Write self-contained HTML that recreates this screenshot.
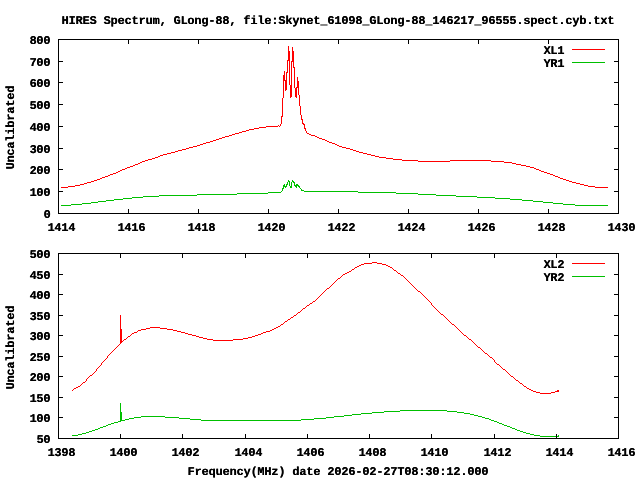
<!DOCTYPE html>
<html><head><meta charset="utf-8"><title>HIRES Spectrum</title>
<style>html,body{margin:0;padding:0;background:#fff;width:640px;height:480px;overflow:hidden}svg{display:block;will-change:transform}</style>
</head><body>
<svg width="640" height="480" viewBox="0 0 640 480" shape-rendering="crispEdges" font-family="'Liberation Mono', monospace" font-weight="bold" font-size="11.85px" fill="#000">
<rect width="640" height="480" fill="#fff"/>
<path fill="#00c000" d="M61 205h10v1h-10zM71 204h11v1h-11zM82 203h9v1h-9zM91 202h7v1h-7zM98 201h8v1h-8zM106 200h8v1h-8zM114 199h9v1h-9zM123 198h9v1h-9zM132 197h11v1h-11zM143 196h16v1h-16zM159 195h38v1h-38zM197 194h40v1h-40zM237 193h31v1h-31zM268 192h13v1h-13zM281 191h1v1h-1zM282 188h1v3h-1zM283 185h1v4h-1zM284 184h1v3h-1zM285 186h1v2h-1zM286 184h1v3h-1zM287 182h1v3h-1zM288 180h1v2h-1zM289 181h1v5h-1zM290 186h1v2h-1zM291 182h1v6h-1zM292 180h1v2h-1zM293 181h1v2h-1zM294 182h1v4h-1zM295 185h1v2h-1zM296 184h1v4h-1zM297 184h1v2h-1zM298 185h1v2h-1zM299 186h1v2h-1zM300 188h1v1h-1zM301 189h1v2h-1zM302 190h2v1h-2zM304 191h54v1h-54zM358 192h38v1h-38zM396 193h22v1h-22zM418 194h18v1h-18zM436 195h20v1h-20zM456 196h21v1h-21zM477 197h18v1h-18zM495 198h15v1h-15zM510 199h12v1h-12zM522 200h11v1h-11zM533 201h10v1h-10zM543 202h10v1h-10zM553 203h10v1h-10zM563 204h12v1h-12zM575 205h33v1h-33z"/>
<path fill="#ff0000" d="M61 187h7v1h-7zM68 186h7v1h-7zM75 185h5v1h-5zM80 184h4v1h-4zM84 183h3v1h-3zM87 182h4v1h-4zM91 181h3v1h-3zM94 180h3v1h-3zM97 179h3v1h-3zM100 178h2v1h-2zM102 177h3v1h-3zM105 176h3v1h-3zM108 175h2v1h-2zM110 174h3v1h-3zM113 173h3v1h-3zM116 172h2v1h-2zM118 171h2v1h-2zM120 170h2v1h-2zM122 169h3v1h-3zM125 168h2v1h-2zM127 167h3v1h-3zM130 166h3v1h-3zM133 165h2v1h-2zM135 164h3v1h-3zM138 163h2v1h-2zM140 162h2v1h-2zM142 161h3v1h-3zM145 160h3v1h-3zM148 159h4v1h-4zM152 158h3v1h-3zM155 157h3v1h-3zM158 156h2v1h-2zM160 155h3v1h-3zM163 154h4v1h-4zM167 153h4v1h-4zM171 152h4v1h-4zM175 151h3v1h-3zM178 150h4v1h-4zM182 149h4v1h-4zM186 148h3v1h-3zM189 147h4v1h-4zM193 146h4v1h-4zM197 145h3v1h-3zM200 144h3v1h-3zM203 143h3v1h-3zM206 142h4v1h-4zM210 141h3v1h-3zM213 140h3v1h-3zM216 139h3v1h-3zM219 138h3v1h-3zM222 137h3v1h-3zM225 136h4v1h-4zM229 135h3v1h-3zM232 134h3v1h-3zM235 133h4v1h-4zM239 132h3v1h-3zM242 131h4v1h-4zM246 130h3v1h-3zM249 129h5v1h-5zM254 128h5v1h-5zM259 127h7v1h-7zM266 126h12v1h-12zM278 125h1v1h-1zM279 126h1v1h-1zM280 124h1v2h-1zM281 116h1v8h-1zM282 98h1v19h-1zM283 75h1v23h-1zM284 71h1v10h-1zM285 80h1v11h-1zM286 72h1v18h-1zM287 60h1v13h-1zM288 46h1v15h-1zM289 51h1v34h-1zM290 85h1v13h-1zM291 61h1v36h-1zM292 47h1v15h-1zM293 51h1v17h-1zM294 67h1v21h-1zM295 88h1v9h-1zM296 87h1v11h-1zM297 77h1v11h-1zM298 81h1v14h-1zM299 95h1v11h-1zM300 106h1v9h-1zM301 115h1v5h-1zM302 119h1v5h-1zM303 123h1v2h-1zM304 124h1v5h-1zM305 128h1v3h-1zM306 131h1v2h-1zM307 133h2v1h-2zM309 134h2v1h-2zM311 135h4v1h-4zM315 136h2v1h-2zM317 137h2v1h-2zM319 138h3v1h-3zM322 139h3v1h-3zM325 140h2v1h-2zM327 141h2v1h-2zM329 142h3v1h-3zM332 143h3v1h-3zM335 144h2v1h-2zM337 145h2v1h-2zM339 146h3v1h-3zM342 147h4v1h-4zM346 148h4v1h-4zM350 149h3v1h-3zM353 150h3v1h-3zM356 151h3v1h-3zM359 152h4v1h-4zM363 153h4v1h-4zM367 154h4v1h-4zM371 155h4v1h-4zM375 156h4v1h-4zM379 157h7v1h-7zM386 158h7v1h-7zM393 159h9v1h-9zM402 160h16v1h-16zM418 161h32v1h-32zM450 160h41v1h-41zM491 161h13v1h-13zM504 162h8v1h-8zM512 163h4v1h-4zM516 164h5v1h-5zM521 165h5v1h-5zM526 166h4v1h-4zM530 167h4v1h-4zM534 168h2v1h-2zM536 169h3v1h-3zM539 170h2v1h-2zM541 171h3v1h-3zM544 172h3v1h-3zM547 173h3v1h-3zM550 174h3v1h-3zM553 175h2v1h-2zM555 176h3v1h-3zM558 177h2v1h-2zM560 178h3v1h-3zM563 179h3v1h-3zM566 180h3v1h-3zM569 181h3v1h-3zM572 182h4v1h-4zM576 183h4v1h-4zM580 184h4v1h-4zM584 185h4v1h-4zM588 186h7v1h-7zM595 187h13v1h-13z"/>
<path fill="#00c000" d="M72 435h6v1h-6zM78 434h4v1h-4zM82 433h4v1h-4zM86 432h3v1h-3zM89 431h3v1h-3zM92 430h3v1h-3zM95 429h3v1h-3zM98 428h2v1h-2zM100 427h3v1h-3zM103 426h3v1h-3zM106 425h2v1h-2zM108 424h3v1h-3zM111 423h3v1h-3zM114 422h4v1h-4zM118 421h2v1h-2zM120 403h1v19h-1zM121 412h1v9h-1zM122 420h3v1h-3zM125 419h4v1h-4zM129 418h5v1h-5zM134 417h7v1h-7zM141 416h24v1h-24zM165 417h14v1h-14zM179 418h11v1h-11zM190 419h11v1h-11zM201 420h100v1h-100zM301 419h13v1h-13zM314 418h12v1h-12zM326 417h8v1h-8zM334 416h10v1h-10zM344 415h8v1h-8zM352 414h9v1h-9zM361 413h11v1h-11zM372 412h12v1h-12zM384 411h16v1h-16zM400 410h47v1h-47zM447 411h10v1h-10zM457 412h7v1h-7zM464 413h6v1h-6zM470 414h4v1h-4zM474 415h4v1h-4zM478 416h4v1h-4zM482 417h3v1h-3zM485 418h4v1h-4zM489 419h2v1h-2zM491 420h3v1h-3zM494 421h3v1h-3zM497 422h2v1h-2zM499 423h3v1h-3zM502 424h2v1h-2zM504 425h3v1h-3zM507 426h3v1h-3zM510 427h2v1h-2zM512 428h3v1h-3zM515 429h2v1h-2zM517 430h3v1h-3zM520 431h3v1h-3zM523 432h3v1h-3zM526 433h4v1h-4zM530 434h4v1h-4zM534 435h6v1h-6zM540 436h18v1h-18zM558 435h1v2h-1z"/>
<path fill="#ff0000" d="M72 390h1v1h-1zM73 389h1v1h-1zM74 388h2v1h-2zM76 387h2v1h-2zM78 386h2v1h-2zM80 385h1v1h-1zM81 384h1v1h-1zM82 383h1v1h-1zM83 382h2v1h-2zM85 381h1v1h-1zM86 379h1v2h-1zM87 378h1v1h-1zM88 377h1v1h-1zM89 376h1v1h-1zM90 375h2v1h-2zM92 374h1v1h-1zM93 373h1v1h-1zM94 372h1v1h-1zM95 371h1v1h-1zM96 369h1v2h-1zM97 368h1v1h-1zM98 367h1v1h-1zM99 366h1v1h-1zM100 365h1v1h-1zM101 363h1v2h-1zM102 362h1v1h-1zM103 361h1v1h-1zM104 360h1v1h-1zM105 359h1v1h-1zM106 358h1v1h-1zM107 356h1v2h-1zM108 355h1v1h-1zM109 354h1v1h-1zM110 353h1v1h-1zM111 352h1v1h-1zM112 351h1v1h-1zM113 350h1v1h-1zM114 349h1v1h-1zM115 348h1v1h-1zM116 347h1v1h-1zM117 346h1v1h-1zM118 345h1v1h-1zM119 344h1v1h-1zM120 315h1v29h-1zM121 329h1v14h-1zM122 341h1v1h-1zM123 340h1v1h-1zM124 339h2v1h-2zM126 338h1v1h-1zM127 337h1v1h-1zM128 336h2v1h-2zM130 335h1v1h-1zM131 334h1v1h-1zM132 333h2v1h-2zM134 332h3v1h-3zM137 331h1v1h-1zM138 330h3v1h-3zM141 329h5v1h-5zM146 328h4v1h-4zM150 327h10v1h-10zM160 328h7v1h-7zM167 329h6v1h-6zM173 330h4v1h-4zM177 331h4v1h-4zM181 332h4v1h-4zM185 333h3v1h-3zM188 334h4v1h-4zM192 335h4v1h-4zM196 336h3v1h-3zM199 337h4v1h-4zM203 338h4v1h-4zM207 339h6v1h-6zM213 340h20v1h-20zM233 339h10v1h-10zM243 338h5v1h-5zM248 337h4v1h-4zM252 336h3v1h-3zM255 335h3v1h-3zM258 334h3v1h-3zM261 333h2v1h-2zM263 332h3v1h-3zM266 331h4v1h-4zM270 330h2v1h-2zM272 329h2v1h-2zM274 328h2v1h-2zM276 327h2v1h-2zM278 326h2v1h-2zM280 325h1v1h-1zM281 324h2v1h-2zM283 323h1v1h-1zM284 322h1v1h-1zM285 321h2v1h-2zM287 320h1v1h-1zM288 319h2v1h-2zM290 318h1v1h-1zM291 317h2v1h-2zM293 316h1v1h-1zM294 315h2v1h-2zM296 314h1v1h-1zM297 313h1v1h-1zM298 312h2v1h-2zM300 311h1v1h-1zM301 310h1v1h-1zM302 309h1v1h-1zM303 308h2v1h-2zM305 307h1v1h-1zM306 306h1v1h-1zM307 305h2v1h-2zM309 304h1v1h-1zM310 303h2v1h-2zM312 302h1v1h-1zM313 301h2v1h-2zM315 300h1v1h-1zM316 299h1v1h-1zM317 298h1v1h-1zM318 297h1v1h-1zM319 296h1v1h-1zM320 295h1v1h-1zM321 294h1v1h-1zM322 293h1v1h-1zM323 292h1v1h-1zM324 291h1v1h-1zM325 290h1v1h-1zM326 289h1v1h-1zM327 288h2v1h-2zM329 287h1v1h-1zM330 286h1v1h-1zM331 285h1v1h-1zM332 284h1v1h-1zM333 283h1v1h-1zM334 282h1v1h-1zM335 281h1v1h-1zM336 280h1v1h-1zM337 279h1v1h-1zM338 278h2v1h-2zM340 277h1v1h-1zM341 276h1v1h-1zM342 275h1v1h-1zM343 274h2v1h-2zM345 273h2v1h-2zM347 272h2v1h-2zM349 271h2v1h-2zM351 270h1v1h-1zM352 269h2v1h-2zM354 268h1v1h-1zM355 267h2v1h-2zM357 266h2v1h-2zM359 265h2v1h-2zM361 264h3v1h-3zM364 263h8v1h-8zM372 262h5v1h-5zM377 263h5v1h-5zM382 264h4v1h-4zM386 265h2v1h-2zM388 266h2v1h-2zM390 267h2v1h-2zM392 268h1v1h-1zM393 269h1v1h-1zM394 270h2v1h-2zM396 271h1v1h-1zM397 272h1v1h-1zM398 273h2v1h-2zM400 274h1v1h-1zM401 275h2v1h-2zM403 276h1v1h-1zM404 277h1v1h-1zM405 278h1v1h-1zM406 279h1v1h-1zM407 280h1v1h-1zM408 281h1v1h-1zM409 282h1v1h-1zM410 283h1v1h-1zM411 284h1v1h-1zM412 285h1v1h-1zM413 286h1v1h-1zM414 287h1v1h-1zM415 288h1v1h-1zM416 289h1v1h-1zM417 290h1v1h-1zM418 291h2v1h-2zM420 292h1v1h-1zM421 293h1v1h-1zM422 294h1v1h-1zM423 295h1v1h-1zM424 296h1v1h-1zM425 297h1v1h-1zM426 298h1v1h-1zM427 299h1v1h-1zM428 300h1v1h-1zM429 301h1v1h-1zM430 302h1v1h-1zM431 303h1v2h-1zM432 305h1v1h-1zM433 306h1v1h-1zM434 307h1v1h-1zM435 308h1v1h-1zM436 309h1v1h-1zM437 310h1v1h-1zM438 311h1v1h-1zM439 312h1v1h-1zM440 313h1v1h-1zM441 314h2v1h-2zM443 315h1v1h-1zM444 316h1v1h-1zM445 317h1v1h-1zM446 318h1v1h-1zM447 319h1v1h-1zM448 320h1v1h-1zM449 321h1v1h-1zM450 322h1v1h-1zM451 323h1v1h-1zM452 324h2v1h-2zM454 325h1v1h-1zM455 326h1v1h-1zM456 327h1v1h-1zM457 328h1v1h-1zM458 329h1v1h-1zM459 330h1v1h-1zM460 331h1v1h-1zM461 332h1v1h-1zM462 333h1v1h-1zM463 334h1v1h-1zM464 335h2v1h-2zM466 336h1v1h-1zM467 337h1v1h-1zM468 338h1v1h-1zM469 339h2v1h-2zM471 340h1v1h-1zM472 341h1v1h-1zM473 342h1v1h-1zM474 343h1v1h-1zM475 344h1v1h-1zM476 345h1v1h-1zM477 346h1v1h-1zM478 347h2v1h-2zM480 348h1v1h-1zM481 349h1v1h-1zM482 350h1v1h-1zM483 351h1v1h-1zM484 352h1v1h-1zM485 353h2v1h-2zM487 354h1v1h-1zM488 355h1v1h-1zM489 356h1v1h-1zM490 357h2v1h-2zM492 358h1v1h-1zM493 359h1v1h-1zM494 360h1v2h-1zM495 362h1v1h-1zM496 363h1v1h-1zM497 364h2v1h-2zM499 365h1v1h-1zM500 366h1v1h-1zM501 367h1v1h-1zM502 368h1v1h-1zM503 369h2v1h-2zM505 370h1v1h-1zM506 371h1v1h-1zM507 372h1v1h-1zM508 373h1v1h-1zM509 374h1v1h-1zM510 375h1v1h-1zM511 376h2v1h-2zM513 377h1v1h-1zM514 378h1v1h-1zM515 379h1v1h-1zM516 380h2v1h-2zM518 381h1v1h-1zM519 382h1v1h-1zM520 383h2v1h-2zM522 384h1v1h-1zM523 385h1v1h-1zM524 386h2v1h-2zM526 387h1v1h-1zM527 388h2v1h-2zM529 389h2v1h-2zM531 390h2v1h-2zM533 391h3v1h-3zM536 392h4v1h-4zM540 393h11v1h-11zM551 392h4v1h-4zM555 391h2v1h-2zM557 390h2v2h-2z"/>

<rect x="58" y="39" width="561" height="1" fill="#000"/>
<rect x="58" y="213" width="561" height="1" fill="#000"/>
<rect x="58" y="39" width="1" height="175" fill="#000"/>
<rect x="618" y="39" width="1" height="175" fill="#000"/>
<rect x="58" y="209" width="1" height="4" fill="#000"/>
<rect x="58" y="40" width="1" height="4" fill="#000"/>
<rect x="128" y="209" width="1" height="4" fill="#000"/>
<rect x="128" y="40" width="1" height="4" fill="#000"/>
<rect x="198" y="209" width="1" height="4" fill="#000"/>
<rect x="198" y="40" width="1" height="4" fill="#000"/>
<rect x="268" y="209" width="1" height="4" fill="#000"/>
<rect x="268" y="40" width="1" height="4" fill="#000"/>
<rect x="338" y="209" width="1" height="4" fill="#000"/>
<rect x="338" y="40" width="1" height="4" fill="#000"/>
<rect x="408" y="209" width="1" height="4" fill="#000"/>
<rect x="408" y="40" width="1" height="4" fill="#000"/>
<rect x="478" y="209" width="1" height="4" fill="#000"/>
<rect x="478" y="40" width="1" height="4" fill="#000"/>
<rect x="548" y="209" width="1" height="4" fill="#000"/>
<rect x="548" y="40" width="1" height="4" fill="#000"/>
<rect x="618" y="209" width="1" height="4" fill="#000"/>
<rect x="618" y="40" width="1" height="4" fill="#000"/>
<rect x="59" y="213" width="4" height="1" fill="#000"/>
<rect x="614" y="213" width="4" height="1" fill="#000"/>
<rect x="59" y="191" width="4" height="1" fill="#000"/>
<rect x="614" y="191" width="4" height="1" fill="#000"/>
<rect x="59" y="169" width="4" height="1" fill="#000"/>
<rect x="614" y="169" width="4" height="1" fill="#000"/>
<rect x="59" y="148" width="4" height="1" fill="#000"/>
<rect x="614" y="148" width="4" height="1" fill="#000"/>
<rect x="59" y="126" width="4" height="1" fill="#000"/>
<rect x="614" y="126" width="4" height="1" fill="#000"/>
<rect x="59" y="104" width="4" height="1" fill="#000"/>
<rect x="614" y="104" width="4" height="1" fill="#000"/>
<rect x="59" y="82" width="4" height="1" fill="#000"/>
<rect x="614" y="82" width="4" height="1" fill="#000"/>
<rect x="59" y="61" width="4" height="1" fill="#000"/>
<rect x="614" y="61" width="4" height="1" fill="#000"/>
<rect x="59" y="39" width="4" height="1" fill="#000"/>
<rect x="614" y="39" width="4" height="1" fill="#000"/>
<rect x="58" y="253" width="561" height="1" fill="#000"/>
<rect x="58" y="438" width="561" height="1" fill="#000"/>
<rect x="58" y="253" width="1" height="186" fill="#000"/>
<rect x="618" y="253" width="1" height="186" fill="#000"/>
<rect x="58" y="434" width="1" height="4" fill="#000"/>
<rect x="58" y="254" width="1" height="4" fill="#000"/>
<rect x="120" y="434" width="1" height="4" fill="#000"/>
<rect x="120" y="254" width="1" height="4" fill="#000"/>
<rect x="182" y="434" width="1" height="4" fill="#000"/>
<rect x="182" y="254" width="1" height="4" fill="#000"/>
<rect x="245" y="434" width="1" height="4" fill="#000"/>
<rect x="245" y="254" width="1" height="4" fill="#000"/>
<rect x="307" y="434" width="1" height="4" fill="#000"/>
<rect x="307" y="254" width="1" height="4" fill="#000"/>
<rect x="369" y="434" width="1" height="4" fill="#000"/>
<rect x="369" y="254" width="1" height="4" fill="#000"/>
<rect x="431" y="434" width="1" height="4" fill="#000"/>
<rect x="431" y="254" width="1" height="4" fill="#000"/>
<rect x="494" y="434" width="1" height="4" fill="#000"/>
<rect x="494" y="254" width="1" height="4" fill="#000"/>
<rect x="556" y="434" width="1" height="4" fill="#000"/>
<rect x="556" y="254" width="1" height="4" fill="#000"/>
<rect x="618" y="434" width="1" height="4" fill="#000"/>
<rect x="618" y="254" width="1" height="4" fill="#000"/>
<rect x="59" y="438" width="4" height="1" fill="#000"/>
<rect x="614" y="438" width="4" height="1" fill="#000"/>
<rect x="59" y="417" width="4" height="1" fill="#000"/>
<rect x="614" y="417" width="4" height="1" fill="#000"/>
<rect x="59" y="397" width="4" height="1" fill="#000"/>
<rect x="614" y="397" width="4" height="1" fill="#000"/>
<rect x="59" y="376" width="4" height="1" fill="#000"/>
<rect x="614" y="376" width="4" height="1" fill="#000"/>
<rect x="59" y="356" width="4" height="1" fill="#000"/>
<rect x="614" y="356" width="4" height="1" fill="#000"/>
<rect x="59" y="335" width="4" height="1" fill="#000"/>
<rect x="614" y="335" width="4" height="1" fill="#000"/>
<rect x="59" y="315" width="4" height="1" fill="#000"/>
<rect x="614" y="315" width="4" height="1" fill="#000"/>
<rect x="59" y="294" width="4" height="1" fill="#000"/>
<rect x="614" y="294" width="4" height="1" fill="#000"/>
<rect x="59" y="274" width="4" height="1" fill="#000"/>
<rect x="614" y="274" width="4" height="1" fill="#000"/>
<rect x="59" y="253" width="4" height="1" fill="#000"/>
<rect x="614" y="253" width="4" height="1" fill="#000"/>
<rect x="572" y="49" width="33" height="1" fill="#ff0000"/>
<rect x="572" y="62" width="33" height="1" fill="#00c000"/>
<rect x="572" y="263" width="33" height="1" fill="#ff0000"/>
<rect x="572" y="276" width="33" height="1" fill="#00c000"/>
<g style="text-shadow:0.25px 0 0 #000" text-rendering="geometricPrecision">
<text x="47.4" y="231" textLength="28" lengthAdjust="spacing">1414</text>
<text x="117.4" y="231" textLength="28" lengthAdjust="spacing">1416</text>
<text x="187.4" y="231" textLength="28" lengthAdjust="spacing">1418</text>
<text x="257.4" y="231" textLength="28" lengthAdjust="spacing">1420</text>
<text x="327.4" y="231" textLength="28" lengthAdjust="spacing">1422</text>
<text x="397.4" y="231" textLength="28" lengthAdjust="spacing">1424</text>
<text x="467.4" y="231" textLength="28" lengthAdjust="spacing">1426</text>
<text x="537.4" y="231" textLength="28" lengthAdjust="spacing">1428</text>
<text x="607.4" y="231" textLength="28" lengthAdjust="spacing">1430</text>
<text x="43.4" y="218" textLength="7" lengthAdjust="spacing">0</text>
<text x="29.4" y="196" textLength="21" lengthAdjust="spacing">100</text>
<text x="29.4" y="174" textLength="21" lengthAdjust="spacing">200</text>
<text x="29.4" y="153" textLength="21" lengthAdjust="spacing">300</text>
<text x="29.4" y="131" textLength="21" lengthAdjust="spacing">400</text>
<text x="29.4" y="109" textLength="21" lengthAdjust="spacing">500</text>
<text x="29.4" y="87" textLength="21" lengthAdjust="spacing">600</text>
<text x="29.4" y="66" textLength="21" lengthAdjust="spacing">700</text>
<text x="29.4" y="44" textLength="21" lengthAdjust="spacing">800</text>
<text x="47.4" y="456" textLength="28" lengthAdjust="spacing">1398</text>
<text x="109.4" y="456" textLength="28" lengthAdjust="spacing">1400</text>
<text x="171.4" y="456" textLength="28" lengthAdjust="spacing">1402</text>
<text x="234.4" y="456" textLength="28" lengthAdjust="spacing">1404</text>
<text x="296.4" y="456" textLength="28" lengthAdjust="spacing">1406</text>
<text x="358.4" y="456" textLength="28" lengthAdjust="spacing">1408</text>
<text x="420.4" y="456" textLength="28" lengthAdjust="spacing">1410</text>
<text x="483.4" y="456" textLength="28" lengthAdjust="spacing">1412</text>
<text x="545.4" y="456" textLength="28" lengthAdjust="spacing">1414</text>
<text x="607.4" y="456" textLength="28" lengthAdjust="spacing">1416</text>
<text x="36.4" y="443" textLength="14" lengthAdjust="spacing">50</text>
<text x="29.4" y="422" textLength="21" lengthAdjust="spacing">100</text>
<text x="29.4" y="402" textLength="21" lengthAdjust="spacing">150</text>
<text x="29.4" y="381" textLength="21" lengthAdjust="spacing">200</text>
<text x="29.4" y="361" textLength="21" lengthAdjust="spacing">250</text>
<text x="29.4" y="340" textLength="21" lengthAdjust="spacing">300</text>
<text x="29.4" y="320" textLength="21" lengthAdjust="spacing">350</text>
<text x="29.4" y="299" textLength="21" lengthAdjust="spacing">400</text>
<text x="29.4" y="279" textLength="21" lengthAdjust="spacing">450</text>
<text x="29.4" y="258" textLength="21" lengthAdjust="spacing">500</text>
<text x="61.4" y="24" textLength="553" lengthAdjust="spacing">HIRES Spectrum, GLong-88, file:Skynet_61098_GLong-88_146217_96555.spect.cyb.txt</text>
<text x="187.4" y="475" textLength="301" lengthAdjust="spacing">Frequency(MHz) date 2026-02-27T08:30:12.000</text>
<text transform="translate(14,169.6) rotate(-90)" x="0" y="0" textLength="84" lengthAdjust="spacing">Uncalibrated</text>
<text transform="translate(14,389.6) rotate(-90)" x="0" y="0" textLength="84" lengthAdjust="spacing">Uncalibrated</text>
<text x="543.4" y="54" textLength="21" lengthAdjust="spacing">XL1</text>
<text x="543.4" y="67" textLength="21" lengthAdjust="spacing">YR1</text>
<text x="543.4" y="268" textLength="21" lengthAdjust="spacing">XL2</text>
<text x="543.4" y="281" textLength="21" lengthAdjust="spacing">YR2</text>
</g>
</svg>
</body></html>
